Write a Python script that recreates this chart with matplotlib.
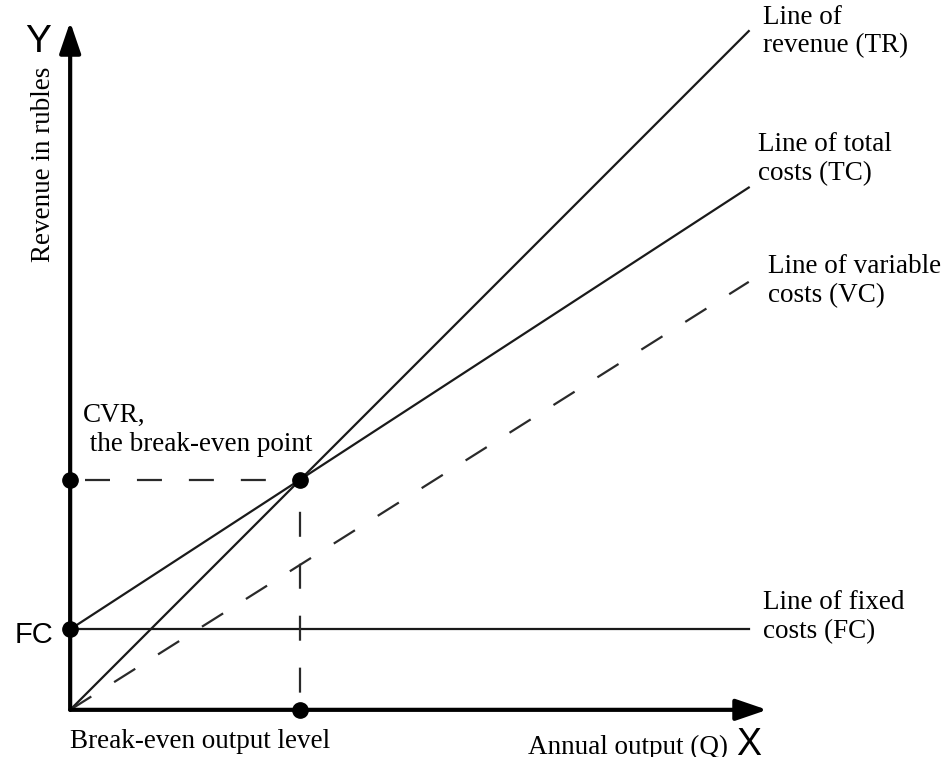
import matplotlib
matplotlib.use('Agg')
import matplotlib.pyplot as plt

# output Q and money values, in arbitrary units (origin = 0, 0)
q_ends = [0, 29.5]
revenue = [0, 29.5]          # TR
total_costs = [3.5, 22.7]    # TC
variable_costs = [0, 18.6]   # VC
fixed_costs = 3.5            # FC
q_break_even = 10.0
rev_break_even = 10.0
x_axis_end = 30.3
y_axis_end = 29.9

serif = 'Liberation Serif'
sans = 'Liberation Sans'
line_col = '#1a1a1a'
dash_col = '#2a2a2a'

plt.rcParams['lines.scale_dashes'] = False
dash_h = (26.6, (18, 19.4))   # starts with a gap
dash_v = (14.5, (18, 19.4))
dash_vc = (0, (18, 19.4))

fig = plt.figure(figsize=(9.42, 7.57), dpi=100)
ax = fig.add_axes([0, 0, 1, 1])
ax.set_xlim(-3.05, 37.9)
ax.set_ylim(-2.05, 30.85)
ax.axis('off')

# axes with arrow heads
arrow = dict(arrowstyle='-|>,head_length=1.9,head_width=0.65', lw=3,
             color='black', mutation_scale=10, shrinkA=0, shrinkB=0)
ax.annotate('', xy=(x_axis_end, 0), xytext=(0, 0), arrowprops=arrow)
ax.annotate('', xy=(0, y_axis_end), xytext=(0, 0), arrowprops=arrow)

# lines
ax.plot(q_ends, revenue, color=line_col, lw=1.6)
ax.plot(q_ends, total_costs, color=line_col, lw=1.6)
ax.plot(q_ends, [fixed_costs, fixed_costs], color=line_col, lw=1.6)
ax.plot(q_ends, variable_costs, color=dash_col, lw=1.6, linestyle=dash_vc)

# break-even guides
ax.plot([0, q_break_even], [rev_break_even, rev_break_even], color=dash_col,
        lw=1.6, linestyle=dash_h)
ax.plot([q_break_even, q_break_even], [rev_break_even, 0], color=dash_col,
        lw=1.6, linestyle=dash_v)

ax.plot([0, 0, q_break_even, q_break_even],
        [fixed_costs, rev_break_even, rev_break_even, 0],
        'o', color='black', ms=11, zorder=5)

# labels (multi-line texts are placed by the baseline of their last line)
fs = 19.5
ls = 1.18
ax.text(-1.39, 28.6, 'Y', family=sans, fontsize=28, ha='center', va='baseline')
ax.text(-1.17, 23.7, 'Revenue in rubles', family=serif, fontsize=fs,
        rotation=90, ha='center', va='center')
ax.text(-0.74, 2.91, 'FC', family=sans, fontsize=21, ha='right', va='baseline')
ax.text(29.5, -1.96, 'X', family=sans, fontsize=27, ha='center', va='baseline')

ax.text(0, -1.65, 'Break-even output level', family=serif, fontsize=fs,
        va='baseline')
ax.text(19.9, -1.91, 'Annual output (Q)', family=serif, fontsize=fs,
        va='baseline')
ax.text(0.57, 11.26, 'CVR,\n the break-even point', family=serif, fontsize=fs,
        va='baseline', linespacing=ls)

ax.text(30.1, 28.57, 'Line of\nrevenue (TR)', family=serif, fontsize=fs,
        va='baseline', linespacing=ls)
ax.text(29.9, 23.04, 'Line of total\ncosts (TC)', family=serif, fontsize=fs,
        va='baseline', linespacing=ls)
ax.text(30.35, 17.74, 'Line of variable\ncosts (VC)', family=serif, fontsize=fs,
        va='baseline', linespacing=ls)
ax.text(30.1, 3.13, 'Line of fixed\ncosts (FC)', family=serif, fontsize=fs,
        va='baseline', linespacing=ls)

fig.savefig('out.png', dpi=100)
